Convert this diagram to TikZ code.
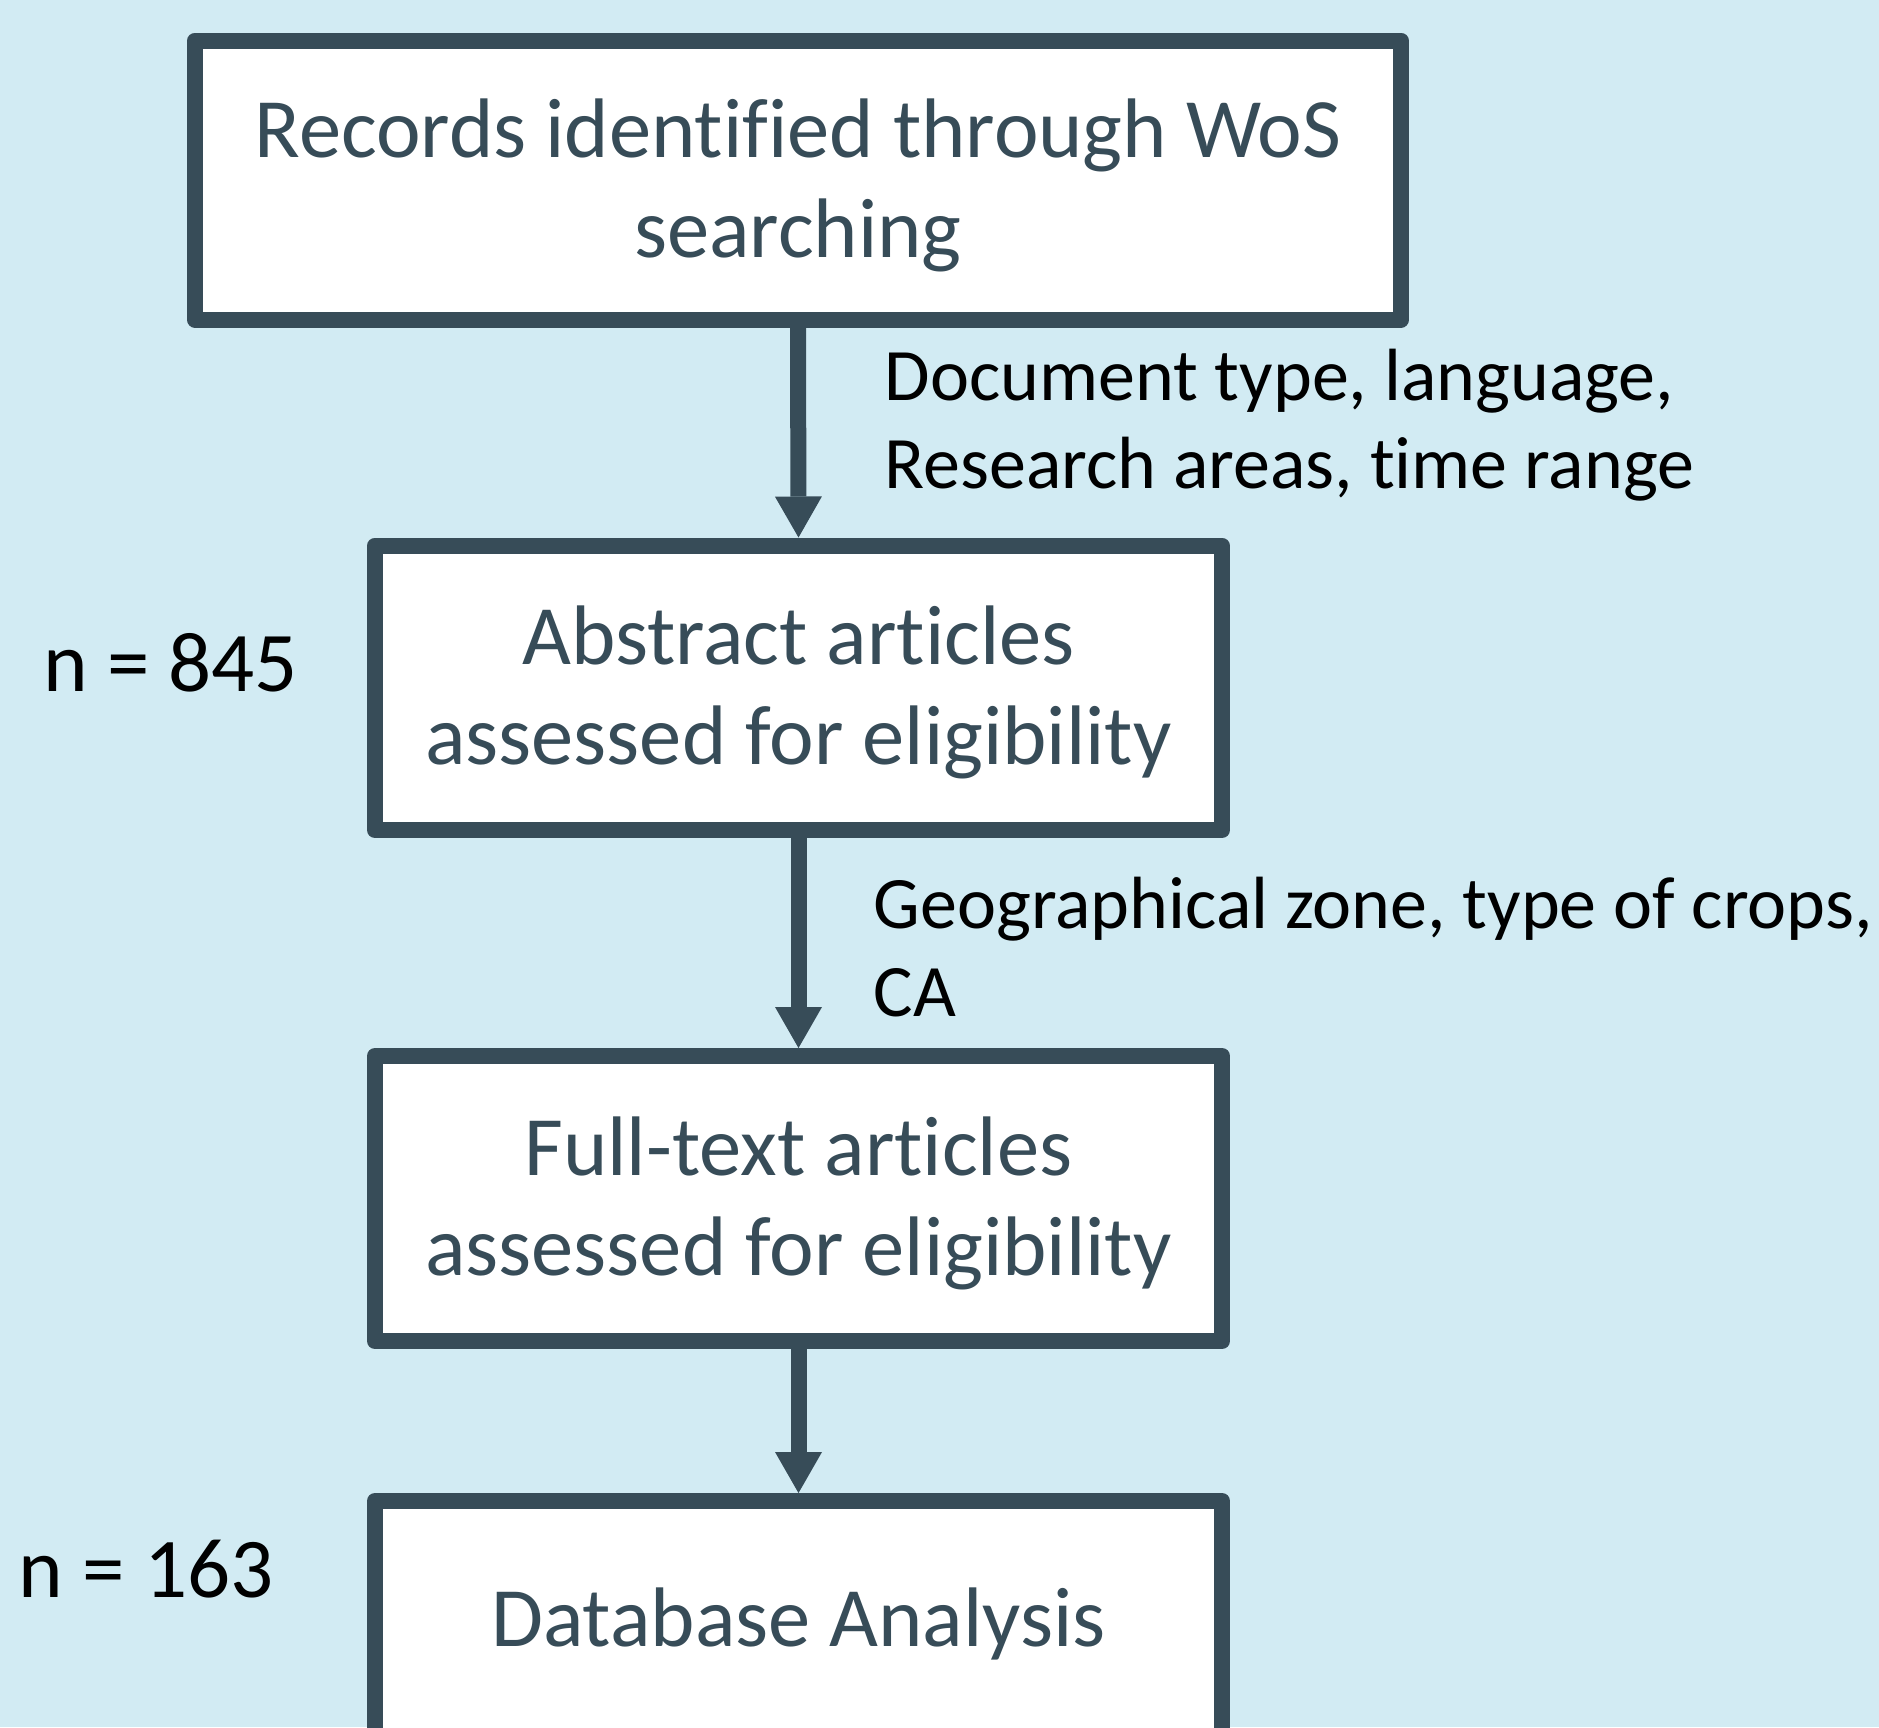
\documentclass[tikz,border=0pt]{standalone}
\usepackage{fontspec}
\setmainfont{Carlito}[Ligatures=NoCommon]
\usetikzlibrary{arrows.meta}
\definecolor{bgblue}{HTML}{D2EBF3}
\definecolor{slate}{HTML}{374C58}
\newcommand\bstrut{\rule[-16pt]{0pt}{86pt}}
\newcommand\lstrut{\rule[-14pt]{0pt}{76pt}}
\begin{document}
\begin{tikzpicture}[x=1pt,y=-1pt,
  flowbox/.style={draw=slate, line width=16pt, line join=round, fill=white,
    inner sep=0pt, align=center, text=slate, font=\fontsize{84.5}{100}\selectfont},
  sidelabel/.style={inner sep=0pt, align=left, text=black,
    font=\fontsize{74}{88}\selectfont, anchor=north west},
  countlabel/.style={inner sep=0pt, text=black,
    font=\fontsize{85}{100}\selectfont, anchor=base west},
  flowarrow/.style={draw=slate, line width=16pt,
    -{Triangle[width=47pt,length=41pt,line width=0pt]}}]
\useasboundingbox (0,0) rectangle (1879,1727);
\clip (0,0) rectangle (1879,1727);
\fill[bgblue] (0,0) rectangle (1879,1727);

\node[flowbox, minimum width=1206pt, minimum height=279pt] (b1) at (798,180)
  {\bstrut Records identified through WoS\\\bstrut searching};
\node[flowbox, minimum width=847pt, minimum height=284.5pt] (b2) at (798.5,687.75)
  {\bstrut Abstract articles\\\bstrut assessed for eligibility};
\node[flowbox, minimum width=847pt, minimum height=285pt] (b3) at (798.5,1198.5)
  {\bstrut Full-text articles\\\bstrut assessed for eligibility};
\node[flowbox, minimum width=847pt, minimum height=236pt] (b4) at (798.5,1619)
  {\bstrut Database Analysis};

\draw[flowarrow] (b1.south) -- (b2.north);
\draw[flowarrow] (b2.south) -- (b3.north);
\draw[flowarrow] (b3.south) -- (b4.north);

\node[sidelabel] (l1) at (884.5,338)
  {\lstrut Document type, language,\\\lstrut Research areas, time range};
\node[sidelabel] (l2) at (873.5,866)
  {\lstrut Geographical zone, type of crops,\\\lstrut CA};
\node[countlabel] (n1) at (43,691.7) {n = 845};
\node[countlabel] (n2) at (18.7,1597.3) {n = 163};
\end{tikzpicture}
\end{document}
